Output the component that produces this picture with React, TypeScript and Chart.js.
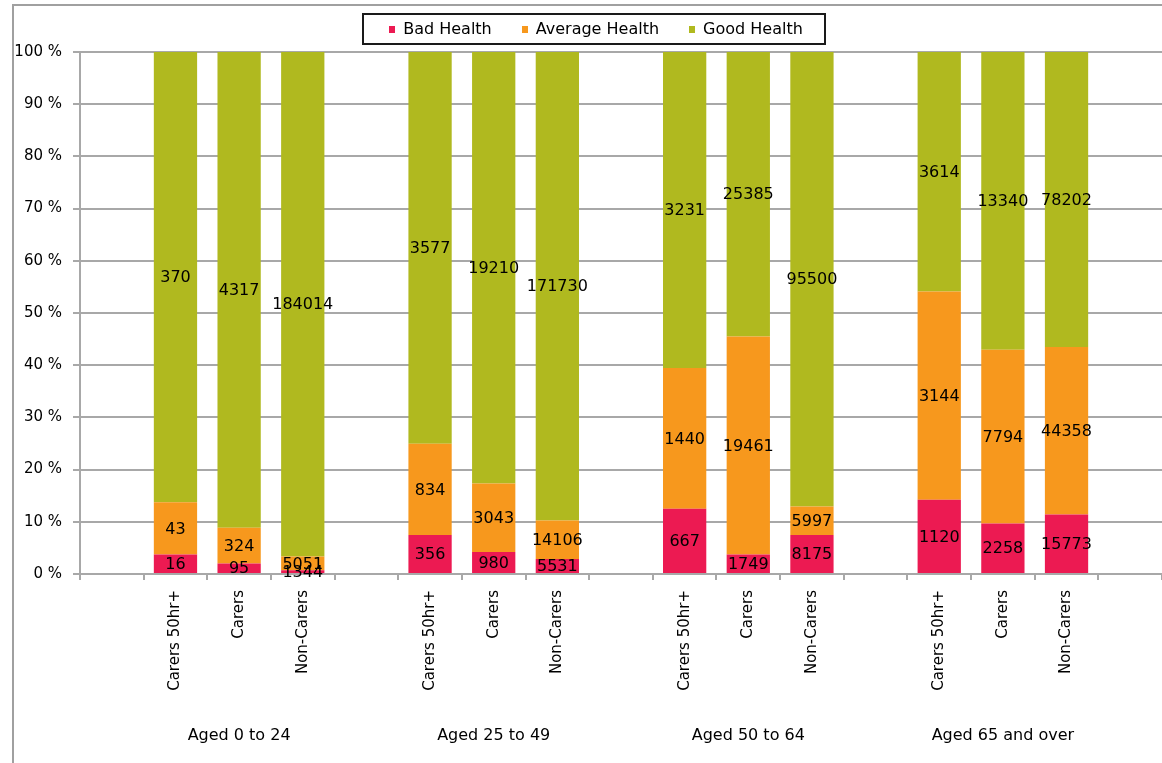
import React, { useEffect, useRef } from 'react';
import { Chart, registerables } from 'chart.js';

Chart.register(...registerables);

const ageGroups = ['Aged 0 to 24', 'Aged 25 to 49', 'Aged 50 to 64', 'Aged 65 and over'];
const carerTypes = ['Carers 50hr+', 'Carers', 'Non-Carers'];
const seriesNames = ['Bad Health', 'Average Health', 'Good Health'];
const seriesColors = ['#EC1A52', '#F7981D', '#B0B91F'];

// counts, in order: each age group x (Carers 50hr+, Carers, Non-Carers)
const badHealth = [16, 95, 1344, 356, 980, 5531, 667, 1749, 8175, 1120, 2258, 15773];
const averageHealth = [43, 324, 5051, 834, 3043, 14106, 1440, 19461, 5997, 3144, 7794, 44358];
const goodHealth = [370, 4317, 184014, 3577, 19210, 171730, 3231, 25385, 95500, 3614, 13340, 78202];

const yTickValues = [0, 10, 20, 30, 40, 50, 60, 70, 80, 90, 100];

const FONT = "'DejaVu Sans', 'Liberation Sans', sans-serif";
const GRID = '#a8a8a8';

// category slots: an empty slot before every group, and one after the last
const slotLabels: string[] = [];
const groupSlotLabels: string[] = [];
const slotIndex: (number | null)[] = [];
ageGroups.forEach((g, gi) => {
  slotLabels.push('');
  groupSlotLabels.push('');
  slotIndex.push(null);
  carerTypes.forEach((c, ci) => {
    slotLabels.push(c);
    groupSlotLabels.push(ci === 1 ? g : '');
    slotIndex.push(gi * 3 + ci);
  });
});
slotLabels.push('');
groupSlotLabels.push('');
slotIndex.push(null);

const seriesCounts = [badHealth, averageHealth, goodHealth];
const totals = badHealth.map((_, i) => badHealth[i] + averageHealth[i] + goodHealth[i]);

const frameLines = {
  id: 'frameLines',
  beforeDraw(chart: any) {
    const ctx = chart.ctx;
    ctx.save();
    ctx.strokeStyle = '#a0a0a0';
    ctx.lineWidth = 2;
    ctx.beginPath();
    ctx.moveTo(13, chart.height);
    ctx.lineTo(13, 5);
    ctx.lineTo(chart.width, 5);
    ctx.stroke();
    ctx.restore();
  },
};

const valueLabels = {
  id: 'valueLabels',
  afterDatasetsDraw(chart: any) {
    const ctx = chart.ctx;
    ctx.save();
    ctx.font = `16px ${FONT}`;
    ctx.fillStyle = '#000';
    ctx.textAlign = 'center';
    ctx.textBaseline = 'middle';
    chart.data.datasets.forEach((ds: any, di: number) => {
      const meta = chart.getDatasetMeta(di);
      meta.data.forEach((bar: any, i: number) => {
        const raw = ds.counts[i];
        if (raw == null) return;
        const p = bar.getProps(['x', 'y', 'base'], true);
        ctx.fillText(String(raw), p.x, (p.y + p.base) / 2 + 1);
      });
    });
    ctx.restore();
  },
};

const boxedLegend = {
  id: 'boxedLegend',
  afterDraw(chart: any) {
    const ctx = chart.ctx;
    ctx.save();
    ctx.font = `16px ${FONT}`;
    const items = chart.data.datasets.map((ds: any) => ({
      text: ds.label,
      color: ds.backgroundColor,
      w: ctx.measureText(ds.label).width,
    }));
    const marker = 6;
    const markerGap = 8;
    const itemGap = 30;
    const padL = 26;
    const padR = 22;
    const total =
      items.reduce((s: number, it: any) => s + marker + markerGap + it.w, 0) +
      itemGap * (items.length - 1);
    const cx = 596;
    const cy = 29;
    let x = cx - total / 2;
    ctx.lineWidth = 2;
    ctx.strokeStyle = '#1a1a1a';
    ctx.strokeRect(Math.round(x - padL), 14, Math.round(total + padL + padR), 30);
    ctx.textAlign = 'left';
    ctx.textBaseline = 'middle';
    items.forEach((it: any) => {
      ctx.fillStyle = it.color;
      ctx.fillRect(Math.round(x), cy - 3, marker, 7);
      ctx.fillStyle = '#000';
      ctx.fillText(it.text, x + marker + markerGap, cy + 1);
      x += marker + markerGap + it.w + itemGap;
    });
    ctx.restore();
  },
};

export default function App() {
  const ref = useRef<HTMLCanvasElement | null>(null);

  useEffect(() => {
    if (!ref.current) return;
    const datasets = seriesNames.map((name, s) => ({
      label: name,
      xAxisID: 'x',
      yAxisID: 'y',
      backgroundColor: seriesColors[s],
      borderWidth: 0,
      barPercentage: 0.68,
      categoryPercentage: 1,
      counts: slotIndex.map((i) => (i === null ? null : seriesCounts[s][i])),
      data: slotIndex.map((i) => (i === null ? null : (seriesCounts[s][i] / totals[i]) * 100)),
    }));

    const chart = new Chart(ref.current, {
      type: 'bar',
      data: { labels: slotLabels, datasets: datasets as any },
      options: {
        responsive: false,
        animation: false,
        layout: { padding: { top: 52, left: 0, right: 0, bottom: 0 } },
        plugins: {
          legend: { display: false },
          tooltip: { enabled: false },
        },
        scales: {
          x: {
            type: 'category',
            stacked: true,
            offset: true,
            position: 'bottom',
            weight: 0,
            grid: {
              offset: true,
              drawOnChartArea: false,
              drawTicks: true,
              tickLength: 6,
              color: GRID,
              lineWidth: 2,
            },
            border: { color: GRID, width: 2 },
            ticks: {
              autoSkip: false,
              minRotation: 90,
              maxRotation: 90,
              padding: 10,
              color: '#000',
              font: { family: FONT, size: 15 },
            },
            afterFit: (s: any) => {
              s.height = 130;
            },
          },
          xg: {
            type: 'category',
            labels: groupSlotLabels,
            offset: true,
            position: 'bottom',
            weight: 1,
            grid: { display: false, drawTicks: false },
            border: { display: false },
            ticks: {
              autoSkip: false,
              minRotation: 0,
              maxRotation: 0,
              padding: 22,
              color: '#000',
              font: { family: FONT, size: 16 },
            },
            afterFit: (s: any) => {
              s.height = 59;
            },
          },
          y: {
            stacked: true,
            min: 0,
            max: 100,
            afterBuildTicks: (s: any) => {
              s.ticks = yTickValues.map((v) => ({ value: v }));
            },
            ticks: {
              padding: 11,
              color: '#000',
              font: { family: FONT, size: 15 },
              callback: (v: any) => `${v} %`,
            },
            grid: { color: GRID, lineWidth: 2, tickLength: 7 },
            border: { color: GRID, width: 2 },
            afterFit: (s: any) => {
              s.width = 80;
            },
          },
        } as any,
      },
      plugins: [frameLines, valueLabels, boxedLegend],
    });
    return () => chart.destroy();
  }, []);

  return (
    <div style={{ position: 'absolute', left: 0, top: 0, width: 1162, height: 763, background: '#fff' }}>
      <canvas ref={ref} width={1162} height={763} style={{ display: 'block' }} />
    </div>
  );
}
